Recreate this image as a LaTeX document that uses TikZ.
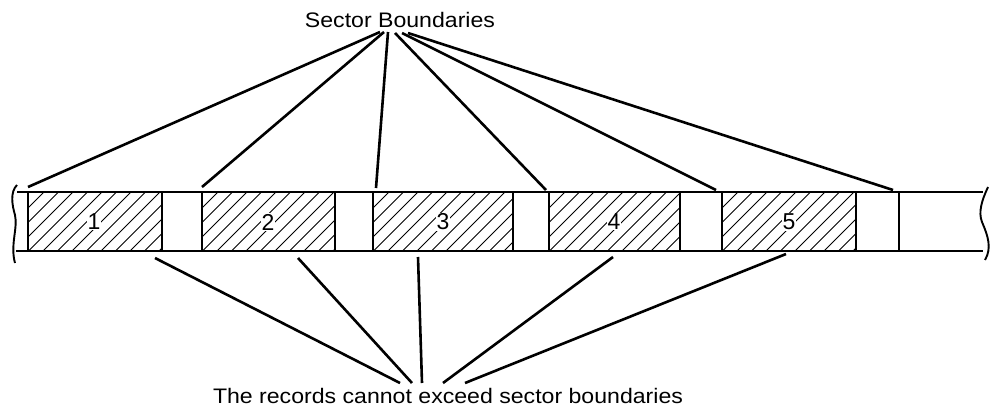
\documentclass[tikz,border=0pt]{standalone}
\usepackage{fontspec}
\setmainfont{Liberation Sans}
\begin{document}
\begin{tikzpicture}[x=1pt,y=-1pt,
  band/.style={line width=2.1pt},
  hatchline/.style={line width=1pt},
  conn/.style={line width=2.6pt},
  numlabel/.style={font=\fontsize{23}{26}\selectfont, fill=white, inner sep=0.5pt},
  caption/.style={font=\fontsize{21}{24}\selectfont, anchor=base, inner sep=0pt}
]
\useasboundingbox (0,0) rectangle (990,410);

% hatching of the record blocks
\foreach \a/\b in {28/162, 202/335, 373/513, 549/680, 722/856}{
  \begin{scope}
    \clip (\a,192) rectangle (\b,251);
    \foreach \k in {-72,-57.5,...,160}{
      \draw[hatchline] (\a+\k,251) -- ++(60,-60);
    }
  \end{scope}
}

% band outline
\draw[band] (17,192) -- (983,192);
\draw[band] (16,251) -- (983,251);
\foreach \xx in {28,162,202,335,373,513,549,680,722,856,899}{
  \draw[band] (\xx,192) -- (\xx,251);
}
% wavy ends
\draw[line width=1.9pt] (17,185) .. controls (10,192) and (12,205) .. (15,215)
   .. controls (18,228) and (10,245) .. (15,263);
\draw[line width=1.9pt] (988,187) .. controls (982,200) and (978,212) .. (982,222)
   .. controls (988,236) and (992,248) .. (985,260);

% numbers
\node[numlabel] (n1) at (94,222) {1};
\node[numlabel] (n2) at (268,222) {2};
\node[numlabel] (n3) at (443,222) {3};
\node[numlabel] (n4) at (614,222) {4};
\node[numlabel] (n5) at (789,222) {5};

% captions
\node[caption] (top) at (400,27) {\scalebox{1.1}[1]{Sector Boundaries}};
\node[caption] (bot) at (448,403) {\scalebox{1.1}[1]{The records cannot exceed sector boundaries}};

% sector boundary connectors
\coordinate (t1) at (380,32); \coordinate (b1) at (28,187);
\coordinate (t2) at (384,32); \coordinate (b2) at (202,187);
\coordinate (t3) at (388,32); \coordinate (b3) at (376,188);
\coordinate (t4) at (395,33); \coordinate (b4) at (546,190);
\coordinate (t5) at (402,33); \coordinate (b5) at (716,190);
\coordinate (t6) at (408,33); \coordinate (b6) at (893,190);
\foreach \i in {1,...,6}{ \draw[conn] (t\i) -- (b\i); }

% record connectors
\coordinate (r1) at (155,258); \coordinate (c1) at (400,383);
\coordinate (r2) at (298,258); \coordinate (c2) at (412,383);
\coordinate (r3) at (418,257); \coordinate (c3) at (422,383);
\coordinate (r4) at (613,257); \coordinate (c4) at (443,383);
\coordinate (r5) at (786,254); \coordinate (c5) at (465,383);
\foreach \i in {1,...,5}{ \draw[conn] (r\i) -- (c\i); }
\end{tikzpicture}
\end{document}
